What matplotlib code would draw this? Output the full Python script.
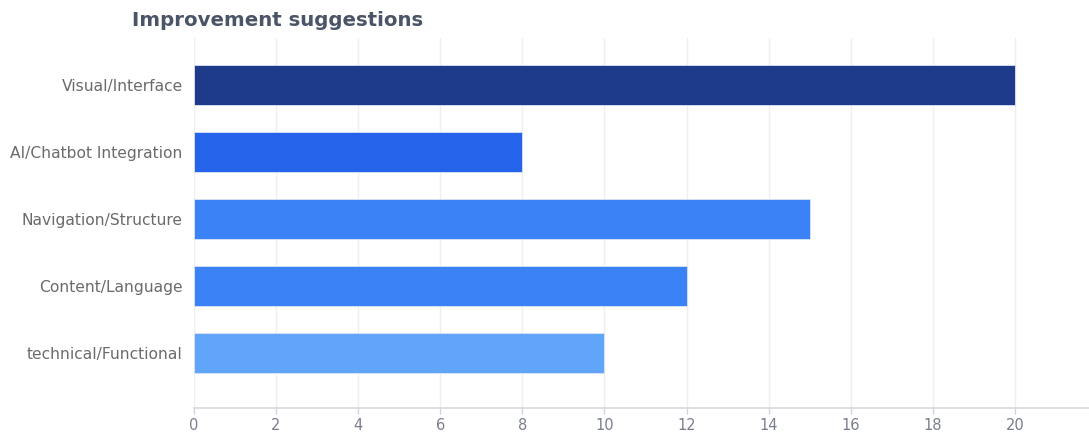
import matplotlib
matplotlib.use('Agg')
import matplotlib.pyplot as plt

plt.rcParams['font.family'] = ['DejaVu Sans']

categories = ['Visual/Interface', 'AI/Chatbot Integration', 'Navigation/Structure',
              'Content/Language', 'technical/Functional']
counts = [20, 8, 15, 12, 10]
colors = ['#1e3a8a', '#2563eb', '#3b82f6', '#3b82f6', '#60a5fa']
x_ticks = [0, 2, 4, 6, 8, 10, 12, 14, 16, 18, 20]

fig = plt.figure(figsize=(10.89, 4.32), dpi=100)
ax = fig.add_axes([0.178, 0.0556, 0.822, 0.856])

positions = list(range(len(categories)))
ax.barh(positions, counts, height=0.6, color=colors, edgecolor='#dbe4f5', linewidth=0.6, zorder=3)

ax.set_yticks(positions)
ax.set_yticklabels(categories, fontsize=11.2, color='#6b6b6b')
ax.set_ylim(len(categories) - 1 + 0.82, -0.70)
ax.set_xlim(0, 21.8)
ax.set_xticks(x_ticks)
ax.tick_params(axis='x', labelsize=10.5, colors='#7a7f8c', length=4, width=1, color='#cfd3da', pad=3)
ax.tick_params(axis='y', length=0, pad=8)

ax.grid(axis='x', color='#efefef', linewidth=1, zorder=0)
for side in ['top', 'right', 'left']:
    ax.spines[side].set_visible(False)
ax.spines['bottom'].set_color('#d6d9df')
ax.spines['bottom'].set_linewidth(1.2)

fig.text(132 / 1089, 1 - 21 / 432, 'Improvement suggestions', fontsize=14.2, fontweight='bold',
         color='#4a5568', ha='left', va='center')

fig.savefig('out.png', dpi=100, facecolor='white')
